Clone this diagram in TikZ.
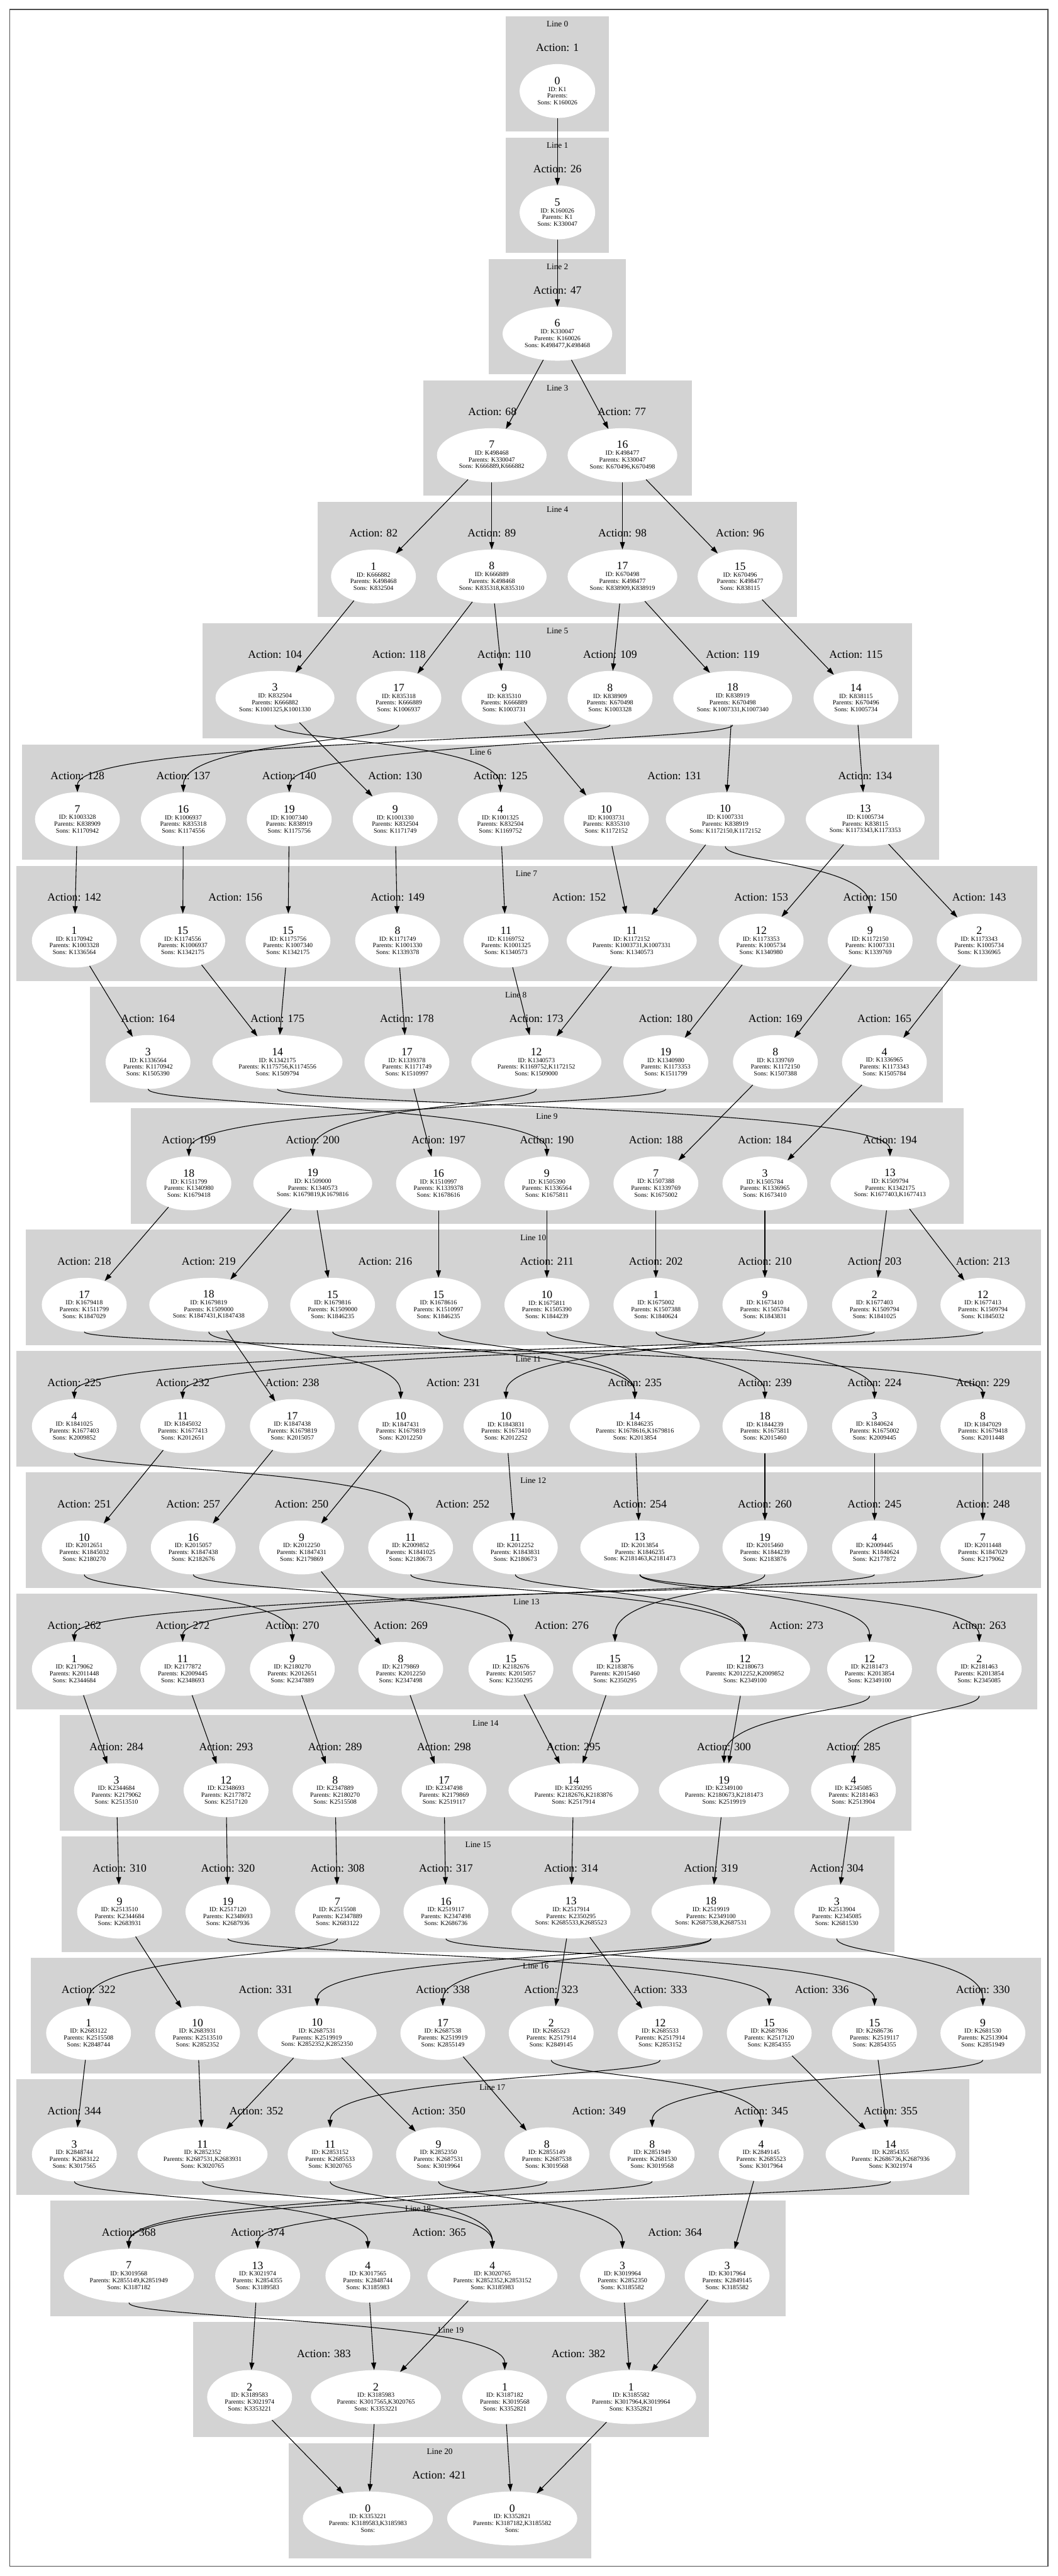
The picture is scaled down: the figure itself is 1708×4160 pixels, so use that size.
\documentclass[tikz,border=0pt]{standalone}
\usepackage{fontspec}
\setmainfont{Liberation Serif}
\usetikzlibrary{shapes.geometric,arrows.meta}
\definecolor{clgray}{RGB}{211,211,211}
\newcommand\stlabel[4]{{\fontsize{18}{18}\selectfont #1}\\ID: #2\\Parents: #3\\Sons: #4}
\tikzset{
  cl/.style={fill=clgray},
  st/.style={ellipse, fill=white, inner sep=0pt, minimum height=87pt, minimum width=137pt, align=center, font=\fontsize{10.3}{11}\selectfont},
  stA/.style={st, minimum width=122pt},
  stB/.style={st, minimum width=177pt},
  stC/.style={st, minimum width=192pt},
  stD/.style={st, minimum width=210pt},
  act/.style={font=\fontsize{18}{20}\selectfont, inner sep=0pt},
  linelab/.style={font=\fontsize{13.5}{15}\selectfont, inner sep=0pt},
  tr/.style={-{Triangle[length=12pt,width=8pt]}, line width=1.1pt},
}
\begin{document}
\begin{tikzpicture}[x=1pt,y=-1pt]
\useasboundingbox (0,0) rectangle (1708,4160);
\draw[black!70,line width=1.5pt] (16,15) rectangle (1692,4144);
% line 0
\fill[cl] (817,26) rectangle (983,212);
\node[linelab] (line0) at (900,39) {Line 0};
\node[act] (act0a) at (900,77) {Action: 1};
\node[stA] (n0a) at (900,147) {\stlabel{0}{K1}{}{K160026}};
% line 1
\fill[cl] (817,222) rectangle (983,408);
\node[linelab] (line1) at (900,235) {Line 1};
\node[act] (act1a) at (900,273) {Action: 26};
\node[stA] (n1a) at (900,343) {\stlabel{5}{K160026}{K1}{K330047}};
% line 2
\fill[cl] (789,418) rectangle (1011,604);
\node[linelab] (line2) at (900,431) {Line 2};
\node[act] (act2a) at (900,469) {Action: 47};
\node[stB] (n2a) at (900,539) {\stlabel{6}{K330047}{K160026}{K498477,K498468}};
% line 3
\fill[cl] (683,614) rectangle (1117,800);
\node[linelab] (line3) at (900,627) {Line 3};
\node[act] (act3a) at (795,665) {Action: 68};
\node[act] (act3b) at (1004,665) {Action: 77};
\node[stB] (n3a) at (794,735) {\stlabel{7}{K498468}{K330047}{K666889,K666882}};
\node[stB] (n3b) at (1005,735) {\stlabel{16}{K498477}{K330047}{K670496,K670498}};
% line 4
\fill[cl] (513,810) rectangle (1287,996);
\node[linelab] (line4) at (900,823) {Line 4};
\node[act] (act4a) at (603,861) {Action: 82};
\node[act] (act4b) at (794,861) {Action: 89};
\node[act] (act4c) at (1005,861) {Action: 98};
\node[act] (act4d) at (1195,861) {Action: 96};
\node[st] (n4a) at (603,931) {\stlabel{1}{K666882}{K498468}{K832504}};
\node[stB] (n4b) at (794,931) {\stlabel{8}{K666889}{K498468}{K835318,K835310}};
\node[stB] (n4c) at (1005,931) {\stlabel{17}{K670498}{K498477}{K838909,K838919}};
\node[st] (n4d) at (1195,931) {\stlabel{15}{K670496}{K498477}{K838115}};
% line 5
\fill[cl] (327,1006) rectangle (1473,1192);
\node[linelab] (line5) at (900,1019) {Line 5};
\node[act] (act5a) at (444,1057) {Action: 104};
\node[act] (act5b) at (644,1057) {Action: 118};
\node[act] (act5c) at (814,1057) {Action: 110};
\node[act] (act5d) at (985,1057) {Action: 109};
\node[act] (act5e) at (1183,1057) {Action: 119};
\node[act] (act5f) at (1382,1057) {Action: 115};
\node[stC] (n5a) at (444,1127) {\stlabel{3}{K832504}{K666882}{K1001325,K1001330}};
\node[st] (n5b) at (644,1127) {\stlabel{17}{K835318}{K666889}{K1006937}};
\node[st] (n5c) at (814,1127) {\stlabel{9}{K835310}{K666889}{K1003731}};
\node[st] (n5d) at (985,1127) {\stlabel{8}{K838909}{K670498}{K1003328}};
\node[stC] (n5e) at (1183,1127) {\stlabel{18}{K838919}{K670498}{K1007331,K1007340}};
\node[st] (n5f) at (1382,1127) {\stlabel{14}{K838115}{K670496}{K1005734}};
% line 6
\fill[cl] (36,1202) rectangle (1516,1388);
\node[linelab] (line6) at (776,1215) {Line 6};
\node[act] (act6a) at (125,1253) {Action: 128};
\node[act] (act6b) at (296,1253) {Action: 137};
\node[act] (act6c) at (467,1253) {Action: 140};
\node[act] (act6d) at (638,1253) {Action: 130};
\node[act] (act6e) at (808,1253) {Action: 125};
\node[act] (act6f) at (1089,1253) {Action: 131};
\node[act] (act6g) at (1397,1253) {Action: 134};
\node[st] (n6a) at (125,1323) {\stlabel{7}{K1003328}{K838909}{K1170942}};
\node[st] (n6b) at (296,1323) {\stlabel{16}{K1006937}{K835318}{K1174556}};
\node[st] (n6c) at (467,1323) {\stlabel{19}{K1007340}{K838919}{K1175756}};
\node[st] (n6d) at (638,1323) {\stlabel{9}{K1001330}{K832504}{K1171749}};
\node[st] (n6e) at (808,1323) {\stlabel{4}{K1001325}{K832504}{K1169752}};
\node[st] (n6f) at (979,1323) {\stlabel{10}{K1003731}{K835310}{K1172152}};
\node[stC] (n6g) at (1171,1323) {\stlabel{10}{K1007331}{K838919}{K1172150,K1172152}};
\node[stC] (n6h) at (1397,1323) {\stlabel{13}{K1005734}{K838115}{K1173343,K1173353}};
% line 7
\fill[cl] (26,1398) rectangle (1675,1584);
\node[linelab] (line7) at (850,1411) {Line 7};
\node[act] (act7a) at (120,1449) {Action: 142};
\node[act] (act7b) at (380,1449) {Action: 156};
\node[act] (act7c) at (642,1449) {Action: 149};
\node[act] (act7d) at (935,1449) {Action: 152};
\node[act] (act7e) at (1229,1449) {Action: 153};
\node[act] (act7f) at (1405,1449) {Action: 150};
\node[act] (act7g) at (1581,1449) {Action: 143};
\node[st] (n7a) at (120,1519) {\stlabel{1}{K1170942}{K1003328}{K1336564}};
\node[st] (n7b) at (295,1519) {\stlabel{15}{K1174556}{K1006937}{K1342175}};
\node[st] (n7c) at (465,1519) {\stlabel{15}{K1175756}{K1007340}{K1342175}};
\node[st] (n7d) at (642,1519) {\stlabel{8}{K1171749}{K1001330}{K1339378}};
\node[st] (n7e) at (817,1519) {\stlabel{11}{K1169752}{K1001325}{K1340573}};
\node[stD] (n7f) at (1020,1519) {\stlabel{11}{K1172152}{K1003731,K1007331}{K1340573}};
\node[st] (n7g) at (1229,1519) {\stlabel{12}{K1173353}{K1005734}{K1340980}};
\node[st] (n7h) at (1405,1519) {\stlabel{9}{K1172150}{K1007331}{K1339769}};
\node[st] (n7i) at (1581,1519) {\stlabel{2}{K1173343}{K1005734}{K1336965}};
% line 8
\fill[cl] (145,1594) rectangle (1522,1780);
\node[linelab] (line8) at (833,1607) {Line 8};
\node[act] (act8a) at (239,1645) {Action: 164};
\node[act] (act8b) at (448,1645) {Action: 175};
\node[act] (act8c) at (657,1645) {Action: 178};
\node[act] (act8d) at (866,1645) {Action: 173};
\node[act] (act8e) at (1075,1645) {Action: 180};
\node[act] (act8f) at (1252,1645) {Action: 169};
\node[act] (act8g) at (1428,1645) {Action: 165};
\node[st] (n8a) at (239,1715) {\stlabel{3}{K1336564}{K1170942}{K1505390}};
\node[stD] (n8b) at (448,1715) {\stlabel{14}{K1342175}{K1175756,K1174556}{K1509794}};
\node[st] (n8c) at (657,1715) {\stlabel{17}{K1339378}{K1171749}{K1510997}};
\node[stD] (n8d) at (866,1715) {\stlabel{12}{K1340573}{K1169752,K1172152}{K1509000}};
\node[st] (n8e) at (1075,1715) {\stlabel{19}{K1340980}{K1173353}{K1511799}};
\node[st] (n8f) at (1252,1715) {\stlabel{8}{K1339769}{K1172150}{K1507388}};
\node[st] (n8g) at (1428,1715) {\stlabel{4}{K1336965}{K1173343}{K1505784}};
% line 9
\fill[cl] (211,1790) rectangle (1556,1976);
\node[linelab] (line9) at (883,1803) {Line 9};
\node[act] (act9a) at (305,1841) {Action: 199};
\node[act] (act9b) at (505,1841) {Action: 200};
\node[act] (act9c) at (708,1841) {Action: 197};
\node[act] (act9d) at (883,1841) {Action: 190};
\node[act] (act9e) at (1059,1841) {Action: 188};
\node[act] (act9f) at (1235,1841) {Action: 184};
\node[act] (act9g) at (1437,1841) {Action: 194};
\node[st] (n9a) at (305,1911) {\stlabel{18}{K1511799}{K1340980}{K1679418}};
\node[stC] (n9b) at (505,1911) {\stlabel{19}{K1509000}{K1340573}{K1679819,K1679816}};
\node[st] (n9c) at (708,1911) {\stlabel{16}{K1510997}{K1339378}{K1678616}};
\node[st] (n9d) at (883,1911) {\stlabel{9}{K1505390}{K1336564}{K1675811}};
\node[st] (n9e) at (1059,1911) {\stlabel{7}{K1507388}{K1339769}{K1675002}};
\node[st] (n9f) at (1235,1911) {\stlabel{3}{K1505784}{K1336965}{K1673410}};
\node[stC] (n9g) at (1437,1911) {\stlabel{13}{K1509794}{K1342175}{K1677403,K1677413}};
% line 10
\fill[cl] (42,1986) rectangle (1681,2172);
\node[linelab] (line10) at (861,1999) {Line 10};
\node[act] (act10a) at (136,2037) {Action: 218};
\node[act] (act10b) at (337,2037) {Action: 219};
\node[act] (act10c) at (622,2037) {Action: 216};
\node[act] (act10d) at (883,2037) {Action: 211};
\node[act] (act10e) at (1059,2037) {Action: 202};
\node[act] (act10f) at (1235,2037) {Action: 210};
\node[act] (act10g) at (1412,2037) {Action: 203};
\node[act] (act10h) at (1587,2037) {Action: 213};
\node[st] (n10a) at (136,2107) {\stlabel{17}{K1679418}{K1511799}{K1847029}};
\node[stC] (n10b) at (337,2107) {\stlabel{18}{K1679819}{K1509000}{K1847431,K1847438}};
\node[st] (n10c) at (537,2107) {\stlabel{15}{K1679816}{K1509000}{K1846235}};
\node[st] (n10d) at (708,2107) {\stlabel{15}{K1678616}{K1510997}{K1846235}};
\node[st] (n10e) at (883,2107) {\stlabel{10}{K1675811}{K1505390}{K1844239}};
\node[st] (n10f) at (1059,2107) {\stlabel{1}{K1675002}{K1507388}{K1840624}};
\node[st] (n10g) at (1235,2107) {\stlabel{9}{K1673410}{K1505784}{K1843831}};
\node[st] (n10h) at (1412,2107) {\stlabel{2}{K1677403}{K1509794}{K1841025}};
\node[st] (n10i) at (1587,2107) {\stlabel{12}{K1677413}{K1509794}{K1845032}};
% line 11
\fill[cl] (26,2182) rectangle (1681,2368);
\node[linelab] (line11) at (853,2195) {Line 11};
\node[act] (act11a) at (120,2233) {Action: 225};
\node[act] (act11b) at (295,2233) {Action: 232};
\node[act] (act11c) at (472,2233) {Action: 238};
\node[act] (act11d) at (732,2233) {Action: 231};
\node[act] (act11e) at (1025,2233) {Action: 235};
\node[act] (act11f) at (1235,2233) {Action: 239};
\node[act] (act11g) at (1412,2233) {Action: 224};
\node[act] (act11h) at (1587,2233) {Action: 229};
\node[st] (n11a) at (120,2303) {\stlabel{4}{K1841025}{K1677403}{K2009852}};
\node[st] (n11b) at (295,2303) {\stlabel{11}{K1845032}{K1677413}{K2012651}};
\node[st] (n11c) at (472,2303) {\stlabel{17}{K1847438}{K1679819}{K2015057}};
\node[st] (n11d) at (647,2303) {\stlabel{10}{K1847431}{K1679819}{K2012250}};
\node[st] (n11e) at (817,2303) {\stlabel{10}{K1843831}{K1673410}{K2012252}};
\node[stD] (n11f) at (1025,2303) {\stlabel{14}{K1846235}{K1678616,K1679816}{K2013854}};
\node[st] (n11g) at (1235,2303) {\stlabel{18}{K1844239}{K1675811}{K2015460}};
\node[st] (n11h) at (1412,2303) {\stlabel{3}{K1840624}{K1675002}{K2009445}};
\node[st] (n11i) at (1587,2303) {\stlabel{8}{K1847029}{K1679418}{K2011448}};
% line 12
\fill[cl] (42,2378) rectangle (1681,2564);
\node[linelab] (line12) at (861,2391) {Line 12};
\node[act] (act12a) at (136,2429) {Action: 251};
\node[act] (act12b) at (312,2429) {Action: 257};
\node[act] (act12c) at (487,2429) {Action: 250};
\node[act] (act12d) at (747,2429) {Action: 252};
\node[act] (act12e) at (1033,2429) {Action: 254};
\node[act] (act12f) at (1235,2429) {Action: 260};
\node[act] (act12g) at (1412,2429) {Action: 245};
\node[act] (act12h) at (1587,2429) {Action: 248};
\node[st] (n12a) at (136,2499) {\stlabel{10}{K2012651}{K1845032}{K2180270}};
\node[st] (n12b) at (312,2499) {\stlabel{16}{K2015057}{K1847438}{K2182676}};
\node[st] (n12c) at (487,2499) {\stlabel{9}{K2012250}{K1847431}{K2179869}};
\node[st] (n12d) at (663,2499) {\stlabel{11}{K2009852}{K1841025}{K2180673}};
\node[st] (n12e) at (832,2499) {\stlabel{11}{K2012252}{K1843831}{K2180673}};
\node[stC] (n12f) at (1033,2499) {\stlabel{13}{K2013854}{K1846235}{K2181463,K2181473}};
\node[st] (n12g) at (1235,2499) {\stlabel{19}{K2015460}{K1844239}{K2183876}};
\node[st] (n12h) at (1412,2499) {\stlabel{4}{K2009445}{K1840624}{K2177872}};
\node[st] (n12i) at (1587,2499) {\stlabel{7}{K2011448}{K1847029}{K2179062}};
% line 13
\fill[cl] (26,2574) rectangle (1675,2760);
\node[linelab] (line13) at (850,2587) {Line 13};
\node[act] (act13a) at (120,2625) {Action: 262};
\node[act] (act13b) at (295,2625) {Action: 272};
\node[act] (act13c) at (472,2625) {Action: 270};
\node[act] (act13d) at (647,2625) {Action: 269};
\node[act] (act13e) at (907,2625) {Action: 276};
\node[act] (act13f) at (1286,2625) {Action: 273};
\node[act] (act13g) at (1581,2625) {Action: 263};
\node[st] (n13a) at (120,2695) {\stlabel{1}{K2179062}{K2011448}{K2344684}};
\node[st] (n13b) at (295,2695) {\stlabel{11}{K2177872}{K2009445}{K2348693}};
\node[st] (n13c) at (472,2695) {\stlabel{9}{K2180270}{K2012651}{K2347889}};
\node[st] (n13d) at (647,2695) {\stlabel{8}{K2179869}{K2012250}{K2347498}};
\node[st] (n13e) at (825,2695) {\stlabel{15}{K2182676}{K2015057}{K2350295}};
\node[st] (n13f) at (993,2695) {\stlabel{15}{K2183876}{K2015460}{K2350295}};
\node[stD] (n13g) at (1203,2695) {\stlabel{12}{K2180673}{K2012252,K2009852}{K2349100}};
\node[st] (n13h) at (1404,2695) {\stlabel{12}{K2181473}{K2013854}{K2349100}};
\node[st] (n13i) at (1581,2695) {\stlabel{2}{K2181463}{K2013854}{K2345085}};
% line 14
\fill[cl] (96,2770) rectangle (1472,2956);
\node[linelab] (line14) at (784,2783) {Line 14};
\node[act] (act14a) at (188,2821) {Action: 284};
\node[act] (act14b) at (365,2821) {Action: 293};
\node[act] (act14c) at (541,2821) {Action: 289};
\node[act] (act14d) at (717,2821) {Action: 298};
\node[act] (act14e) at (926,2821) {Action: 295};
\node[act] (act14f) at (1169,2821) {Action: 300};
\node[act] (act14g) at (1378,2821) {Action: 285};
\node[st] (n14a) at (188,2891) {\stlabel{3}{K2344684}{K2179062}{K2513510}};
\node[st] (n14b) at (365,2891) {\stlabel{12}{K2348693}{K2177872}{K2517120}};
\node[st] (n14c) at (541,2891) {\stlabel{8}{K2347889}{K2180270}{K2515508}};
\node[st] (n14d) at (717,2891) {\stlabel{17}{K2347498}{K2179869}{K2519117}};
\node[stD] (n14e) at (926,2891) {\stlabel{14}{K2350295}{K2182676,K2183876}{K2517914}};
\node[stD] (n14f) at (1169,2891) {\stlabel{19}{K2349100}{K2180673,K2181473}{K2519919}};
\node[st] (n14g) at (1378,2891) {\stlabel{4}{K2345085}{K2181463}{K2513904}};
% line 15
\fill[cl] (100,2966) rectangle (1444,3152);
\node[linelab] (line15) at (772,2979) {Line 15};
\node[act] (act15a) at (193,3017) {Action: 310};
\node[act] (act15b) at (368,3017) {Action: 320};
\node[act] (act15c) at (545,3017) {Action: 308};
\node[act] (act15d) at (720,3017) {Action: 317};
\node[act] (act15e) at (922,3017) {Action: 314};
\node[act] (act15f) at (1148,3017) {Action: 319};
\node[act] (act15g) at (1351,3017) {Action: 304};
\node[st] (n15a) at (193,3087) {\stlabel{9}{K2513510}{K2344684}{K2683931}};
\node[st] (n15b) at (368,3087) {\stlabel{19}{K2517120}{K2348693}{K2687936}};
\node[st] (n15c) at (545,3087) {\stlabel{7}{K2515508}{K2347889}{K2683122}};
\node[st] (n15d) at (720,3087) {\stlabel{16}{K2519117}{K2347498}{K2686736}};
\node[stC] (n15e) at (922,3087) {\stlabel{13}{K2517914}{K2350295}{K2685533,K2685523}};
\node[stC] (n15f) at (1148,3087) {\stlabel{18}{K2519919}{K2349100}{K2687538,K2687531}};
\node[st] (n15g) at (1351,3087) {\stlabel{3}{K2513904}{K2345085}{K2681530}};
% line 16
\fill[cl] (50,3162) rectangle (1681,3348);
\node[linelab] (line16) at (865,3175) {Line 16};
\node[act] (act16a) at (143,3213) {Action: 322};
\node[act] (act16b) at (429,3213) {Action: 331};
\node[act] (act16c) at (715,3213) {Action: 338};
\node[act] (act16d) at (890,3213) {Action: 323};
\node[act] (act16e) at (1066,3213) {Action: 333};
\node[act] (act16f) at (1327,3213) {Action: 336};
\node[act] (act16g) at (1587,3213) {Action: 330};
\node[st] (n16a) at (143,3283) {\stlabel{1}{K2683122}{K2515508}{K2848744}};
\node[st] (n16b) at (319,3283) {\stlabel{10}{K2683931}{K2513510}{K2852352}};
\node[stC] (n16c) at (512,3283) {\stlabel{10}{K2687531}{K2519919}{K2852352,K2852350}};
\node[st] (n16d) at (715,3283) {\stlabel{17}{K2687538}{K2519919}{K2855149}};
\node[st] (n16e) at (890,3283) {\stlabel{2}{K2685523}{K2517914}{K2849145}};
\node[st] (n16f) at (1066,3283) {\stlabel{12}{K2685533}{K2517914}{K2853152}};
\node[st] (n16g) at (1242,3283) {\stlabel{15}{K2687936}{K2517120}{K2854355}};
\node[st] (n16h) at (1412,3283) {\stlabel{15}{K2686736}{K2519117}{K2854355}};
\node[st] (n16i) at (1587,3283) {\stlabel{9}{K2681530}{K2513904}{K2851949}};
% line 17
\fill[cl] (26,3358) rectangle (1565,3544);
\node[linelab] (line17) at (795,3371) {Line 17};
\node[act] (act17a) at (120,3409) {Action: 344};
\node[act] (act17b) at (414,3409) {Action: 352};
\node[act] (act17c) at (708,3409) {Action: 350};
\node[act] (act17d) at (967,3409) {Action: 349};
\node[act] (act17e) at (1229,3409) {Action: 345};
\node[act] (act17f) at (1438,3409) {Action: 355};
\node[st] (n17a) at (120,3479) {\stlabel{3}{K2848744}{K2683122}{K3017565}};
\node[stD] (n17b) at (327,3479) {\stlabel{11}{K2852352}{K2687531,K2683931}{K3020765}};
\node[st] (n17c) at (533,3479) {\stlabel{11}{K2853152}{K2685533}{K3020765}};
\node[st] (n17d) at (708,3479) {\stlabel{9}{K2852350}{K2687531}{K3019964}};
\node[st] (n17e) at (883,3479) {\stlabel{8}{K2855149}{K2687538}{K3019568}};
\node[st] (n17f) at (1053,3479) {\stlabel{8}{K2851949}{K2681530}{K3019568}};
\node[st] (n17g) at (1229,3479) {\stlabel{4}{K2849145}{K2685523}{K3017964}};
\node[stD] (n17h) at (1438,3479) {\stlabel{14}{K2854355}{K2686736,K2687936}{K3021974}};
% line 18
\fill[cl] (81,3554) rectangle (1269,3740);
\node[linelab] (line18) at (675,3567) {Line 18};
\node[act] (act18a) at (208,3605) {Action: 368};
\node[act] (act18b) at (416,3605) {Action: 374};
\node[act] (act18c) at (709,3605) {Action: 365};
\node[act] (act18d) at (1090,3605) {Action: 364};
\node[stD] (n18a) at (208,3675) {\stlabel{7}{K3019568}{K2855149,K2851949}{K3187182}};
\node[st] (n18b) at (416,3675) {\stlabel{13}{K3021974}{K2854355}{K3189583}};
\node[st] (n18c) at (594,3675) {\stlabel{4}{K3017565}{K2848744}{K3185983}};
\node[stD] (n18d) at (795,3675) {\stlabel{4}{K3020765}{K2852352,K2853152}{K3185983}};
\node[st] (n18e) at (1005,3675) {\stlabel{3}{K3019964}{K2852350}{K3185582}};
\node[st] (n18f) at (1174,3675) {\stlabel{3}{K3017964}{K2849145}{K3185582}};
% line 19
\fill[cl] (312,3750) rectangle (1145,3936);
\node[linelab] (line19) at (728,3763) {Line 19};
\node[act] (act19a) at (523,3801) {Action: 383};
\node[act] (act19b) at (934,3801) {Action: 382};
\node[st] (n19a) at (403,3871) {\stlabel{2}{K3189583}{K3021974}{K3353221}};
\node[stD] (n19b) at (607,3871) {\stlabel{2}{K3185983}{K3017565,K3020765}{K3353221}};
\node[st] (n19c) at (815,3871) {\stlabel{1}{K3187182}{K3019568}{K3352821}};
\node[stD] (n19d) at (1019,3871) {\stlabel{1}{K3185582}{K3017964,K3019964}{K3352821}};
% line 20
\fill[cl] (466,3946) rectangle (955,4132);
\node[linelab] (line20) at (710,3959) {Line 20};
\node[act] (act20a) at (709,3997) {Action: 421};
\node[stD] (n20a) at (594,4067) {\stlabel{0}{K3353221}{K3189583,K3185983}{}};
\node[stD] (n20b) at (827,4067) {\stlabel{0}{K3352821}{K3187182,K3185582}{}};
% edges
\draw[tr] (n0a) -- (n1a);
\draw[tr] (n1a) -- (n2a);
\draw[tr] (n2a) -- (n3a);
\draw[tr] (n2a) -- (n3b);
\draw[tr] (n3a) -- (n4a);
\draw[tr] (n3a) -- (n4b);
\draw[tr] (n3b) -- (n4c);
\draw[tr] (n3b) -- (n4d);
\draw[tr] (n4a) -- (n5a);
\draw[tr] (n4b) -- (n5b);
\draw[tr] (n4b) -- (n5c);
\draw[tr] (n4c) -- (n5d);
\draw[tr] (n4c) -- (n5e);
\draw[tr] (n4d) -- (n5f);
\draw[tr] (n5a) -- (n6d);
\draw[tr] (n5a) .. controls (n5a |- 0,1197) and (n6e |- 0,1197) .. (n6e);
\draw[tr] (n5b) .. controls (n5b |- 0,1197) and (n6b |- 0,1197) .. (n6b);
\draw[tr] (n5c) -- (n6f);
\draw[tr] (n5d) .. controls (n5d |- 0,1197) and (n6a |- 0,1197) .. (n6a);
\draw[tr] (n5e) .. controls (n5e |- 0,1197) and (n6c |- 0,1197) .. (n6c);
\draw[tr] (n5e) -- (n6g);
\draw[tr] (n5f) -- (n6h);
\draw[tr] (n6a) -- (n7a);
\draw[tr] (n6b) -- (n7b);
\draw[tr] (n6c) -- (n7c);
\draw[tr] (n6d) -- (n7d);
\draw[tr] (n6e) -- (n7e);
\draw[tr] (n6f) -- (n7f);
\draw[tr] (n6g) -- (n7f);
\draw[tr] (n6g) .. controls (n6g |- 0,1393) and (n7h |- 0,1393) .. (n7h);
\draw[tr] (n6h) -- (n7g);
\draw[tr] (n6h) -- (n7i);
\draw[tr] (n7a) -- (n8a);
\draw[tr] (n7b) -- (n8b);
\draw[tr] (n7c) -- (n8b);
\draw[tr] (n7d) -- (n8c);
\draw[tr] (n7e) -- (n8d);
\draw[tr] (n7f) -- (n8d);
\draw[tr] (n7g) -- (n8e);
\draw[tr] (n7h) -- (n8f);
\draw[tr] (n7i) -- (n8g);
\draw[tr] (n8a) .. controls (n8a |- 0,1785) and (n9d |- 0,1785) .. (n9d);
\draw[tr] (n8b) .. controls (n8b |- 0,1785) and (n9g |- 0,1785) .. (n9g);
\draw[tr] (n8c) -- (n9c);
\draw[tr] (n8d) .. controls (n8d |- 0,1785) and (n9b |- 0,1785) .. (n9b);
\draw[tr] (n8e) .. controls (n8e |- 0,1785) and (n9a |- 0,1785) .. (n9a);
\draw[tr] (n8f) -- (n9e);
\draw[tr] (n8g) -- (n9f);
\draw[tr] (n9a) -- (n10a);
\draw[tr] (n9b) -- (n10b);
\draw[tr] (n9b) -- (n10c);
\draw[tr] (n9c) -- (n10d);
\draw[tr] (n9d) -- (n10e);
\draw[tr] (n9e) -- (n10f);
\draw[tr] (n9f) -- (n10g);
\draw[tr] (n9g) -- (n10h);
\draw[tr] (n9g) -- (n10i);
\draw[tr] (n10a) .. controls (n10a |- 0,2177) and (n11i |- 0,2177) .. (n11i);
\draw[tr] (n10b) -- (n11c);
\draw[tr] (n10b) .. controls (n10b |- 0,2177) and (n11d |- 0,2177) .. (n11d);
\draw[tr] (n10c) .. controls (n10c |- 0,2177) and (n11f |- 0,2177) .. (n11f);
\draw[tr] (n10d) .. controls (n10d |- 0,2177) and (n11f |- 0,2177) .. (n11f);
\draw[tr] (n10e) .. controls (n10e |- 0,2177) and (n11g |- 0,2177) .. (n11g);
\draw[tr] (n10f) .. controls (n10f |- 0,2177) and (n11h |- 0,2177) .. (n11h);
\draw[tr] (n10g) .. controls (n10g |- 0,2177) and (n11e |- 0,2177) .. (n11e);
\draw[tr] (n10h) .. controls (n10h |- 0,2177) and (n11a |- 0,2177) .. (n11a);
\draw[tr] (n10i) .. controls (n10i |- 0,2177) and (n11b |- 0,2177) .. (n11b);
\draw[tr] (n11a) .. controls (n11a |- 0,2373) and (n12d |- 0,2373) .. (n12d);
\draw[tr] (n11b) -- (n12a);
\draw[tr] (n11c) -- (n12b);
\draw[tr] (n11d) -- (n12c);
\draw[tr] (n11e) -- (n12e);
\draw[tr] (n11f) -- (n12f);
\draw[tr] (n11g) -- (n12g);
\draw[tr] (n11h) -- (n12h);
\draw[tr] (n11i) -- (n12i);
\draw[tr] (n12a) .. controls (n12a |- 0,2569) and (n13c |- 0,2569) .. (n13c);
\draw[tr] (n12b) .. controls (n12b |- 0,2569) and (n13e |- 0,2569) .. (n13e);
\draw[tr] (n12c) -- (n13d);
\draw[tr] (n12d) .. controls (n12d |- 0,2569) and (n13g |- 0,2569) .. (n13g);
\draw[tr] (n12e) .. controls (n12e |- 0,2569) and (n13g |- 0,2569) .. (n13g);
\draw[tr] (n12f) .. controls (n12f |- 0,2569) and (n13h |- 0,2569) .. (n13h);
\draw[tr] (n12f) .. controls (n12f |- 0,2569) and (n13i |- 0,2569) .. (n13i);
\draw[tr] (n12g) .. controls (n12g |- 0,2569) and (n13f |- 0,2569) .. (n13f);
\draw[tr] (n12h) .. controls (n12h |- 0,2569) and (n13b |- 0,2569) .. (n13b);
\draw[tr] (n12i) .. controls (n12i |- 0,2569) and (n13a |- 0,2569) .. (n13a);
\draw[tr] (n13a) -- (n14a);
\draw[tr] (n13b) -- (n14b);
\draw[tr] (n13c) -- (n14c);
\draw[tr] (n13d) -- (n14d);
\draw[tr] (n13e) -- (n14e);
\draw[tr] (n13f) -- (n14e);
\draw[tr] (n13g) -- (n14f);
\draw[tr] (n13h) .. controls (n13h |- 0,2765) and (n14f |- 0,2765) .. (n14f);
\draw[tr] (n13i) .. controls (n13i |- 0,2765) and (n14g |- 0,2765) .. (n14g);
\draw[tr] (n14a) -- (n15a);
\draw[tr] (n14b) -- (n15b);
\draw[tr] (n14c) -- (n15c);
\draw[tr] (n14d) -- (n15d);
\draw[tr] (n14e) -- (n15e);
\draw[tr] (n14f) -- (n15f);
\draw[tr] (n14g) -- (n15g);
\draw[tr] (n15a) -- (n16b);
\draw[tr] (n15b) .. controls (n15b |- 0,3157) and (n16g |- 0,3157) .. (n16g);
\draw[tr] (n15c) .. controls (n15c |- 0,3157) and (n16a |- 0,3157) .. (n16a);
\draw[tr] (n15d) .. controls (n15d |- 0,3157) and (n16h |- 0,3157) .. (n16h);
\draw[tr] (n15e) -- (n16e);
\draw[tr] (n15e) -- (n16f);
\draw[tr] (n15f) .. controls (n15f |- 0,3157) and (n16c |- 0,3157) .. (n16c);
\draw[tr] (n15f) .. controls (n15f |- 0,3157) and (n16d |- 0,3157) .. (n16d);
\draw[tr] (n15g) .. controls (n15g |- 0,3157) and (n16i |- 0,3157) .. (n16i);
\draw[tr] (n16a) -- (n17a);
\draw[tr] (n16b) -- (n17b);
\draw[tr] (n16c) -- (n17b);
\draw[tr] (n16c) -- (n17d);
\draw[tr] (n16d) -- (n17e);
\draw[tr] (n16e) .. controls (n16e |- 0,3353) and (n17g |- 0,3353) .. (n17g);
\draw[tr] (n16f) .. controls (n16f |- 0,3353) and (n17c |- 0,3353) .. (n17c);
\draw[tr] (n16g) -- (n17h);
\draw[tr] (n16h) -- (n17h);
\draw[tr] (n16i) .. controls (n16i |- 0,3353) and (n17f |- 0,3353) .. (n17f);
\draw[tr] (n17a) .. controls (n17a |- 0,3549) and (n18c |- 0,3549) .. (n18c);
\draw[tr] (n17b) .. controls (n17b |- 0,3549) and (n18d |- 0,3549) .. (n18d);
\draw[tr] (n17c) .. controls (n17c |- 0,3549) and (n18d |- 0,3549) .. (n18d);
\draw[tr] (n17d) .. controls (n17d |- 0,3549) and (n18e |- 0,3549) .. (n18e);
\draw[tr] (n17e) .. controls (n17e |- 0,3549) and (n18a |- 0,3549) .. (n18a);
\draw[tr] (n17f) .. controls (n17f |- 0,3549) and (n18a |- 0,3549) .. (n18a);
\draw[tr] (n17g) -- (n18f);
\draw[tr] (n17h) .. controls (n17h |- 0,3549) and (n18b |- 0,3549) .. (n18b);
\draw[tr] (n18a) .. controls (n18a |- 0,3745) and (n19c |- 0,3745) .. (n19c);
\draw[tr] (n18b) -- (n19a);
\draw[tr] (n18c) -- (n19b);
\draw[tr] (n18d) -- (n19b);
\draw[tr] (n18e) -- (n19d);
\draw[tr] (n18f) -- (n19d);
\draw[tr] (n19a) -- (n20a);
\draw[tr] (n19b) -- (n20a);
\draw[tr] (n19c) -- (n20b);
\draw[tr] (n19d) -- (n20b);
\end{tikzpicture}
\end{document}
